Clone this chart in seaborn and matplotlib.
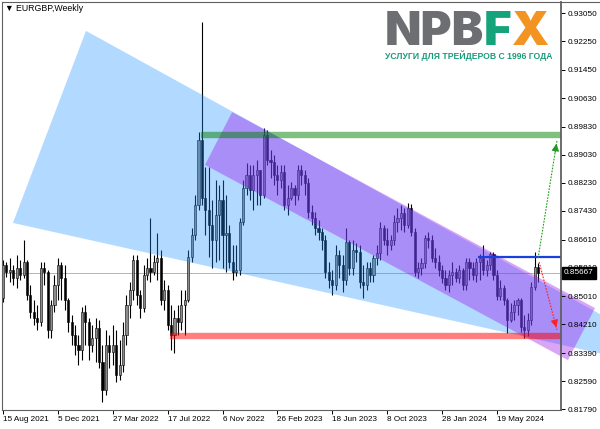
import numpy as np
import pandas as pd
import matplotlib
matplotlib.use('Agg')
import matplotlib.pyplot as plt
import matplotlib.transforms as mtransforms
from matplotlib.patches import Polygon
from matplotlib.lines import Line2D
from matplotlib import font_manager
import seaborn as sns

# EURGBP weekly candles, bar 0 = week of 15 Aug 2021
first_open = 0.8495
closes = [0.8590, 0.8570, 0.8575, 0.8553, 0.8581, 0.8561, 0.8598, 0.8504, 0.8456, 0.8439,
          0.8427, 0.8581, 0.8570, 0.8405, 0.8476, 0.8533, 0.8590, 0.8553, 0.8490, 0.8427,
          0.8390, 0.8362, 0.8348, 0.8456, 0.8427, 0.8362, 0.8382, 0.8410, 0.8314, 0.8234,
          0.8362, 0.8342, 0.8362, 0.8277, 0.8305, 0.8390, 0.8476, 0.8518, 0.8604, 0.8504,
          0.8467, 0.8561, 0.8581, 0.8570, 0.8598, 0.8609, 0.8490, 0.8518, 0.8419, 0.8390,
          0.8439, 0.8427, 0.8476, 0.8490, 0.8612, 0.8675, 0.8760, 0.8945, 0.8780, 0.8746,
          0.8703, 0.8660, 0.8731, 0.8774, 0.8675, 0.8680, 0.8598, 0.8570, 0.8575, 0.8712,
          0.8808, 0.8845, 0.8803, 0.8845, 0.8859, 0.8788, 0.8959, 0.8888, 0.8883, 0.8845,
          0.8831, 0.8854, 0.8760, 0.8780, 0.8808, 0.8788, 0.8859, 0.8845, 0.8822, 0.8740,
          0.8723, 0.8695, 0.8683, 0.8660, 0.8570, 0.8547, 0.8533, 0.8618, 0.8590, 0.8547,
          0.8655, 0.8581, 0.8632, 0.8626, 0.8541, 0.8533, 0.8581, 0.8561, 0.8609, 0.8624,
          0.8695, 0.8660, 0.8646, 0.8660, 0.8712, 0.8723, 0.8737, 0.8703, 0.8751, 0.8683,
          0.8570, 0.8581, 0.8595, 0.8666, 0.8660, 0.8609, 0.8598, 0.8575, 0.8553, 0.8533,
          0.8561, 0.8570, 0.8553, 0.8575, 0.8533, 0.8598, 0.8581, 0.8561, 0.8598, 0.8609,
          0.8575, 0.8590, 0.8621, 0.8561, 0.8501, 0.8524, 0.8490, 0.8433, 0.8456, 0.8476,
          0.8490, 0.8413, 0.8405, 0.8433, 0.8527, 0.8584, 0.85667]
highs = [0.8604, 0.8598, 0.8609, 0.8590, 0.8618, 0.8604, 0.8660, 0.8604, 0.8533, 0.8490,
         0.8476, 0.8598, 0.8598, 0.8575, 0.8490, 0.8561, 0.8609, 0.8598, 0.8590, 0.8495,
         0.8447, 0.8419, 0.8390, 0.8470, 0.8476, 0.8439, 0.8419, 0.8439, 0.8433, 0.8362,
         0.8405, 0.8390, 0.8419, 0.8405, 0.8376, 0.8427, 0.8504, 0.8541, 0.8618, 0.8618,
         0.8518, 0.8590, 0.8609, 0.8723, 0.8618, 0.8680, 0.8632, 0.8547, 0.8533, 0.8476,
         0.8461, 0.8476, 0.8518, 0.8518, 0.8632, 0.8695, 0.8788, 0.8967, 0.9280, 0.8868,
         0.8868, 0.8774, 0.8831, 0.8817, 0.8831, 0.8788, 0.8703, 0.8646, 0.8646, 0.8723,
         0.8831, 0.8879, 0.8874, 0.8874, 0.8888, 0.8859, 0.8979, 0.8973, 0.8916, 0.8902,
         0.8874, 0.8874, 0.8874, 0.8817, 0.8825, 0.8817, 0.8874, 0.8874, 0.8859, 0.8837,
         0.8760, 0.8740, 0.8717, 0.8695, 0.8675, 0.8598, 0.8575, 0.8646, 0.8632, 0.8618,
         0.8695, 0.8660, 0.8660, 0.8652, 0.8646, 0.8590, 0.8598, 0.8598, 0.8618, 0.8646,
         0.8712, 0.8703, 0.8695, 0.8675, 0.8731, 0.8751, 0.8760, 0.8751, 0.8766, 0.8763,
         0.8695, 0.8598, 0.8609, 0.8675, 0.8683, 0.8675, 0.8638, 0.8618, 0.8590, 0.8575,
         0.8575, 0.8598, 0.8581, 0.8590, 0.8581, 0.8609, 0.8609, 0.8598, 0.8609, 0.8621,
         0.8646, 0.8604, 0.8626, 0.8626, 0.8575, 0.8547, 0.8533, 0.8495, 0.8481, 0.8490,
         0.8495, 0.8495, 0.8447, 0.8453, 0.8541, 0.8626, 0.8595]
lows = [0.8484, 0.8555, 0.8541, 0.8533, 0.8524, 0.8547, 0.8553, 0.8490, 0.8439, 0.8419,
        0.8405, 0.8416, 0.8533, 0.8382, 0.8382, 0.8456, 0.8490, 0.8490, 0.8461, 0.8399,
        0.8362, 0.8333, 0.8305, 0.8319, 0.8362, 0.8319, 0.8342, 0.8314, 0.8297, 0.8200,
        0.8220, 0.8297, 0.8305, 0.8257, 0.8263, 0.8285, 0.8362, 0.8439, 0.8490, 0.8476,
        0.8439, 0.8456, 0.8547, 0.8541, 0.8561, 0.8547, 0.8476, 0.8461, 0.8405, 0.8348,
        0.8339, 0.8390, 0.8405, 0.8390, 0.8484, 0.8598, 0.8660, 0.8746, 0.8760, 0.8675,
        0.8612, 0.8581, 0.8598, 0.8604, 0.8581, 0.8570, 0.8581, 0.8547, 0.8558, 0.8561,
        0.8703, 0.8788, 0.8774, 0.8746, 0.8760, 0.8760, 0.8780, 0.8874, 0.8837, 0.8817,
        0.8788, 0.8808, 0.8746, 0.8731, 0.8774, 0.8760, 0.8774, 0.8817, 0.8788, 0.8723,
        0.8703, 0.8675, 0.8660, 0.8632, 0.8553, 0.8524, 0.8504, 0.8518, 0.8553, 0.8513,
        0.8533, 0.8561, 0.8561, 0.8598, 0.8524, 0.8495, 0.8518, 0.8541, 0.8541, 0.8590,
        0.8604, 0.8646, 0.8618, 0.8632, 0.8646, 0.8683, 0.8689, 0.8683, 0.8695, 0.8672,
        0.8558, 0.8553, 0.8561, 0.8581, 0.8638, 0.8598, 0.8581, 0.8558, 0.8538, 0.8518,
        0.8513, 0.8533, 0.8541, 0.8538, 0.8518, 0.8518, 0.8547, 0.8547, 0.8541, 0.8547,
        0.8561, 0.8558, 0.8575, 0.8547, 0.8490, 0.8490, 0.8476, 0.8396, 0.8427, 0.8433,
        0.8447, 0.8399, 0.8382, 0.8387, 0.8419, 0.8518, 0.8541]
last_price = 0.85667

date_ticks = [0, 16, 32, 48, 64, 80, 96, 112, 128, 144]
date_labels = ['15 Aug 2021', '5 Dec 2021', '27 Mar 2022', '17 Jul 2022', '6 Nov 2022',
               '26 Feb 2023', '18 Jun 2023', '8 Oct 2023', '28 Jan 2024', '19 May 2024']
price_ticks = [0.93050, 0.92250, 0.91450, 0.90630, 0.89830, 0.89030, 0.88230, 0.87430,
               0.86610, 0.85810, 0.85010, 0.84210, 0.83390, 0.82590, 0.81790]

# drawn objects, (bar index, price)
fan_pts = [(24.2, 0.9255), (2.9, 0.8709), (175.5, 0.8335), (175.5, 0.8442)]
channel_pts = [(66.8, 0.9024), (58.9, 0.8874), (164.7, 0.8319), (172.6, 0.8467)]
green_level, green_start = 0.8959, 57.7
red_level, red_start = 0.8387, 48.7
blue_level, blue_start = 0.8612, 138.5
up_arrow = [(156.0, 0.8609), (161.5, 0.8942)]
down_arrow = [(156.3, 0.8598), (161.5, 0.8405)]

df = pd.DataFrame({'close': closes, 'high': highs, 'low': lows})
df['open'] = [first_open] + closes[:-1]
df['bar'] = np.arange(len(df))
df['bull'] = df['close'] >= df['open']

sns.set_theme(style='white')
plt.rcParams['font.family'] = ['Liberation Sans', 'DejaVu Sans']

fig = plt.figure(figsize=(6, 4.29), dpi=100)
W, H = 600, 429
ax = fig.add_axes([2 / W, (H - 410) / H, 559 / W, 408 / H])
x_right = 162.68
ax.set_xlim(-0.29, x_right)
ax.set_ylim(0.81772, 0.93371)

# candles
ax.vlines(df['bar'], df['low'], df['high'], color='black', lw=0.8, zorder=2)
up = df[df['bull']]
dn = df[~df['bull']]
ax.bar(up['bar'], up['close'] - up['open'], bottom=up['open'], width=0.62,
       color='#8c8c8c', edgecolor='black', linewidth=0.4, zorder=2.1)
ax.bar(dn['bar'], dn['open'] - dn['close'], bottom=dn['close'], width=0.62,
       color='black', edgecolor='black', linewidth=0.4, zorder=2.1)

ax.axhline(last_price, color='#a8a8a8', lw=0.6, zorder=1.5)

# fan and channel
ax.add_patch(Polygon(fan_pts, closed=True, fc='#1e90ff', alpha=0.34, ec='none',
                     zorder=3, clip_on=False))
ax.add_patch(Polygon(channel_pts, closed=True, fc='#980ee9', alpha=0.37, ec='none',
                     zorder=4, clip_on=False))

# levels
ax.hlines(green_level, green_start, x_right, color='#008000', alpha=0.5, lw=4.6,
          zorder=5, capstyle='butt')
ax.hlines(red_level, red_start, x_right, color='#ff0000', alpha=0.5, lw=4.6,
          zorder=5, capstyle='butt')
ax.hlines(blue_level, blue_start, x_right, color='#1a3fe0', lw=1.6, zorder=6)

for pts, col in [(up_arrow, '#1f9a1f'), (down_arrow, '#ff2020')]:
    (x0, y0), (x1, y1) = pts
    ax.plot([x0, x1], [y0, y1], color=col, lw=0.8, ls=(0, (1.5, 1.2)), zorder=6)
    ax.annotate('', xy=(x1, y1), xytext=(x1 - (x1 - x0) * 0.12, y1 - (y1 - y0) * 0.12),
                arrowprops=dict(arrowstyle='-|>,head_length=0.35,head_width=0.18',
                                color=col, lw=0.8), zorder=6)

# axes styling
ax.yaxis.tick_right()
ax.set_yticks(price_ticks)
ax.set_yticklabels([f'{v:.5f}' for v in price_ticks])
ax.set_xticks(date_ticks)
ax.set_xticklabels(date_labels)
for lab in ax.get_xticklabels():
    lab.set_ha('left')
ax.tick_params(axis='y', direction='out', length=3, width=0.7, pad=1.5,
               labelsize=5.9, colors='black', right=True, left=False)
ax.tick_params(axis='x', direction='out', length=3, width=0.7, pad=1.5,
               labelsize=5.9, colors='black', bottom=True)
ax.yaxis.set_zorder(10)
ax.xaxis.set_zorder(10)
for side, sp in ax.spines.items():
    sp.set_visible(True)
    sp.set_color('#606060')
    sp.set_linewidth(0.8)
    sp.set_zorder(11)
ax.spines['right'].set_linewidth(1.3)
ax.set_facecolor('white')
fig.add_artist(Line2D([561 / W, 1], [(H - 2) / H, (H - 2) / H], color='#606060', lw=0.8))

ax.text(3 / 559, 1 - 2 / 408, '\u25bc EURGBP,Weekly', transform=ax.transAxes,
        fontsize=6.3, va='top', ha='left', color='black', zorder=12)

# current price label
trans = mtransforms.blended_transform_factory(ax.transAxes, ax.transData)
ax.text(1 + 3 / 559, last_price, f'{last_price:.5f}', transform=trans, fontsize=5.9,
        color='white', va='center', ha='left', clip_on=False, zorder=20,
        bbox=dict(boxstyle='square,pad=0.3', fc='black', ec='black'))

# logo: pick the heaviest sans available, sized to the logo width
logo_family, logo_weight = 'Liberation Sans', 'bold'
for f in font_manager.fontManager.ttflist:
    w = f.weight if isinstance(f.weight, int) else font_manager.weight_dict.get(f.weight, 400)
    if f.name in ('Roboto', 'Lato', 'Inter', 'Open Sans') and w >= 800 and f.style == 'normal':
        logo_family, logo_weight = f.name, w
        break

renderer = fig.canvas.get_renderer()
probe = fig.text(0, 0, 'NPBFX', fontsize=30, fontweight=logo_weight, family=logo_family)
probe_w = probe.get_window_extent(renderer=renderer).width
probe.remove()
logo_size = 30 * 164 / probe_w

x_px = 385
for part, col in [('NPB', '#6d6e71'), ('F', '#14a37a'), ('X', '#f39321')]:
    t = fig.text(x_px / W, (H - 45) / H, part, fontsize=logo_size, fontweight=logo_weight,
                 color=col, ha='left', va='baseline', family=logo_family)
    x_px = t.get_window_extent(renderer=renderer).x1

names = {f.name for f in font_manager.fontManager.ttflist}
if 'Liberation Sans Narrow' in names:
    sub_family, sub_size = 'Liberation Sans Narrow', 7.3
else:
    sub_family, sub_size = 'Liberation Sans', 6.2
fig.text(385 / W, (H - 59) / H, 'УСЛУГИ ДЛЯ ТРЕЙДЕРОВ С 1996 ГОДА', fontsize=sub_size,
         fontweight='bold', color='#1a9c7c', ha='left', va='baseline',
         family=[sub_family, 'DejaVu Sans'])

fig.savefig('out.png', dpi=100)
